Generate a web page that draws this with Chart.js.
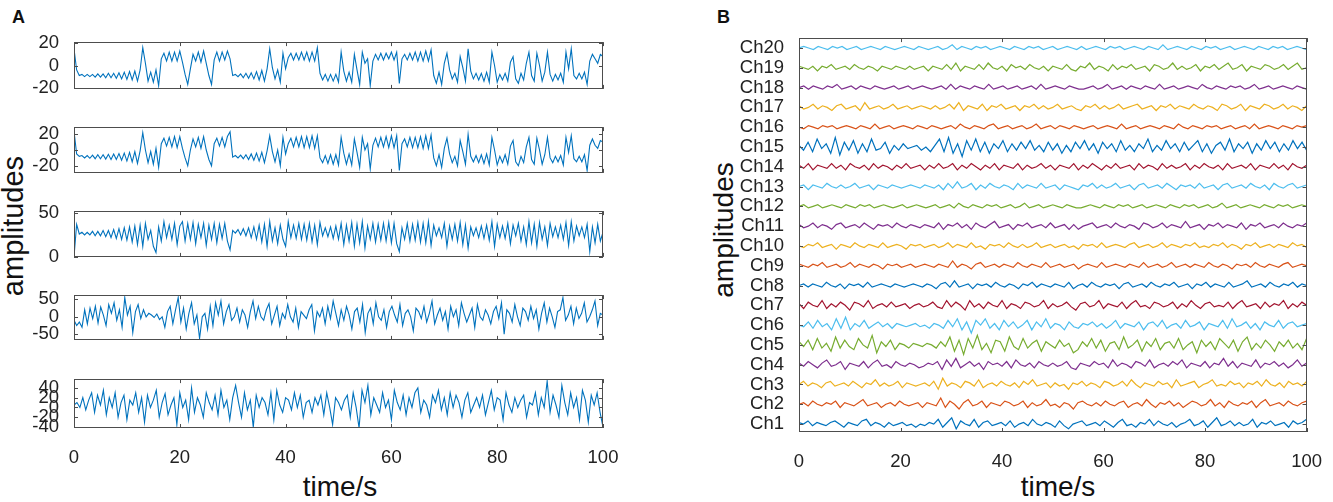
<!DOCTYPE html>
<html>
<head>
<meta charset="utf-8">
<title>amplitudes</title>
<script src="https://cdn.jsdelivr.net/npm/chart.js@4.4.1/dist/chart.umd.min.js"></script>
<style>
  body { margin: 0; background: #fff; }
  #fig { position: relative; width: 1333px; height: 502px; overflow: hidden; font-family: "Liberation Sans", Arial, sans-serif; color: #111; }
  #fig canvas { position: absolute; }
  .txt { position: absolute; white-space: nowrap; line-height: 1; }
  .panel { font-weight: bold; font-size: 18px; }
  .xlab { font-size: 28px; transform: translateX(-50%); }
  .ylab { transform: translate(-50%, -50%) rotate(-90deg); }
</style>
</head>
<body>
<div id="fig">
  <div class="txt panel" style="left:12px; top:8px">A</div>
  <div class="txt panel" style="left:717px; top:8px">B</div>
  <div class="txt ylab" style="left:13px; top:226px; font-size:29px">amplitudes</div>
  <div class="txt ylab" style="left:724px; top:230px; font-size:28px">amplitudes</div>
  <div class="txt xlab" style="left:340px; top:473px">time/s</div>
  <div class="txt xlab" style="left:1058px; top:473px">time/s</div>
  <canvas id="a1"></canvas>
  <canvas id="a2"></canvas>
  <canvas id="a3"></canvas>
  <canvas id="a4"></canvas>
  <canvas id="a5"></canvas>
  <canvas id="b"></canvas>
</div>
<script>
// ---- panel A : five signals, 0..100 s ----
const sigA1 = [15,-4,-9,
  -8,-10,-8,-10,-8,-10.5,-7.5,-10.5,-7.5,-11,-7,-11,-7,-11.5,-6.5,-12,-6,-12.5,-5.5,-13,-5,-14,-4,
  16,2,-14,-6,-15,-4,-18,6, 11,4,12,4,12,4,13,3, -8,-17,-3,10,4,12,3,13,2, -9,-17,5,12,4,12,5,13,6,
  -9,-8,-10,-7.5,-11,-7,-11.5,-6.5,-12,-5.5,-13,-4.5,-14,-3, 15,-2,-12,-4,-15,11,-3,7,
  11,5,11,5,12,5,12,4,12,4, 16,-7,-13,-8,-14,-8,-14,-8,-15,
  12,-5,-14,-6,-15,10,-4,-17,12,2,6,-18,4, 10,5,11,5,11,6,12,5,12, -16,6,
  10,5,11,5,12,4,12,4,13,4,14, -9,-16,-6,-17,2,11,-4,-12,-7,-15,8,-2,-14,15,-5,
  -12,-7,-13,-7,-14,-6,-15, 12,0,-15,-8,-13,-7,-14,3,8,-12,-16,-7,-13,2,12,-9,-14,11,0,-14,-6,12,-8,
  -14,-8,-13,-7,-15, 12,-3,15,-9,-12,-7,-12,-6,-17,4,10,6,2,10,8];

const sigA2 = [24,-5,-8,
  -7,-10,-7,-10.5,-6.5,-11,-6,-11,-6,-11.5,-5.5,-12,-5,-12,-4.5,-13,-4,-14,-3,-15,-2,-17,-1,
  22,0,-16,-2,-18,2,-22,8, 15,5,16,4,17,3,17,2, -10,-20,0,14,4,16,2,17,0, -12,-20,8,15,5,16,4,17,23,
  -9,-7,-10,-6.5,-11,-6,-12,-5,-13,-4,-14,-3,-16,-1, 18,-2,-15,0,-20,16,-5,8,
  15,4,16,4,17,3,17,3,18,2, 18,-10,-16,-7,-17,-6,-18,-6,-19,
  16,-4,-18,-5,-19,14,-3,-22,16,0,8,-24,6, 15,4,16,4,17,3,18,3,18, -26,8,
  14,4,16,3,16,3,17,2,18,2,19, -10,-20,-6,-22,2,15,-5,-16,-8,-20,12,-2,-18,20,-8,
  -15,-7,-16,-6,-17,-5,-19, 16,0,-19,-8,-16,-6,-18,5,12,-15,-20,-8,-16,4,16,-12,-18,15,0,-18,-6,16,-10,
  -16,-8,-15,-7,-19, 16,-3,18,-11,-15,-8,-15,-6,-26,6,14,6,2,12,10];

const sigA3 = [0,37,26,28,25,28,25,29,24,29, 24,30,23,30,22,31,21,32,20,33,
  19,34,17,35,14,36,12,38,20,30, 12,5,34,18,40,22,36,20,38,14,
  35,40,18,38,20,39,15,37,22,38, 13,36,20,38,16,37,21,38,18,8,
  30,27,31,25,32,24,33,22,34,20, 36,17,37,12,40,18,33,15,36,20,
  12,40,22,36,21,38,20,37,19,38, 17,36,14,39,24,33,23,34,21,35,
  20,38,14,36,18,39,12,37,16,40, 10,35,20,38,17,37,19,38,18,39,
  16,38,15,6,33,20,38,18,37,19, 39,17,38,16,40,13,36,24,33,22,
  38,12,35,20,37,18,39,14,36,10, 34,24,33,22,35,21,36,19,40,12,
  37,22,35,21,38,15,36,24,38,18, 34,14,40,16,37,12,39,20,34,13,
  38,23,34,22,36,20,39,13,40,18, 35,24,34,22,37,6,34,16,37,18,28];

const sigA4 = [-10,-25,-15,-30,20,-20,25,-5,30,-18,28,5,-25,35,10,40,-10,20,-30,55,5,30,-45,15,35,
  -5,20,0,10,5,-2,8,-8,0,-30,15,30,-20,20,55,-15,25,-35,10,40,-20,5,-62,0,10,-35,30,-25,40,5,
  45,-20,15,35,-10,0,25,-15,20,5,-30,15,45,-5,30,0,-10,20,38,-20,5,30,-25,10,-5,35,0,-15,25,-30,
  15,5,-5,20,35,-40,15,0,25,-20,30,-5,45,10,-25,20,-10,30,5,-35,15,25,-15,35,-45,10,25,-20,40,0,
  -10,20,-30,15,30,5,-15,35,-25,10,20,0,-40,25,15,-5,30,-15,10,45,-20,5,25,-10,15,-35,30,0,20,-25,
  40,10,-15,5,25,-30,35,0,-10,20,5,-20,15,30,-5,40,-50,20,10,-15,35,0,-25,25,15,-10,30,-5,20,-35,
  10,40,-15,25,0,-30,15,20,55,-10,5,30,-20,25,-5,10,40,-15,0,20,45,-25,10,5];

const sigA5 = [5,10,0,20,-5,15,30,-10,25,5,35,-15,20,0,30,-20,10,25,-25,15,5,30,-10,20,-30,25,0,15,
  35,-20,10,28,-15,5,20,-35,30,0,15,-25,40,-10,20,5,-20,30,10,-5,25,-15,35,0,15,-25,20,45,10,-20,
  30,-5,15,-40,25,0,20,10,-15,30,-25,35,5,-10,20,15,-5,30,0,25,-20,10,15,-10,20,5,25,-15,30,0,-35,
  20,10,-5,15,25,-20,30,0,-42,35,10,45,-15,20,5,-10,30,0,15,-25,35,10,-5,25,-15,20,0,30,40,-10,15,
  5,-20,25,10,35,-5,20,-15,30,0,25,10,-20,15,30,-10,5,20,0,25,-15,10,35,-5,20,15,-25,30,5,-10,20,0,
  15,25,-20,10,5,30,-15,20,0,54,-10,25,5,-20,45,10,-15,30,0,20,-25,35,15,-30,25,5,30,-10,-40];

// ---- panel B : 20 channels ----
const chNames = ['Ch1','Ch2','Ch3','Ch4','Ch5','Ch6','Ch7','Ch8','Ch9','Ch10',
  'Ch11','Ch12','Ch13','Ch14','Ch15','Ch16','Ch17','Ch18','Ch19','Ch20'];

const ch1 = [1,0,2,-1,1,0,-1,1,2,0,-2,1,0,-1,2,3,-1,1,0,-2,1,-1,0,1,-1,0,-2,0,-1,1,0,3,-2,1,4,-3,2,0,-1,3,-2,1,2,-1,0,1,-1,2,-2,0,1,-1,3,0,-1,1,0,-2,2,-1,-3,0,1,2,-1,0,1,-1,2,0,-2,1,3,-1,0,-2,1,0,3,-1,2,0,-1,1,-2,0,1,3,-1,0,2,-2,1,4,-1,0,2,-1,1,-1,0,3,-2,1,0,2,-1,0,1,-2,2,0,1,3];
const ch2 = [0,1,-1,2,0,-1,1,0,2,-2,1,0,-1,1,3,-1,0,1,-2,0,1,-1,2,0,-1,0,1,-2,1,0,-1,4,-2,2,0,-3,1,3,-1,0,2,-2,1,0,-1,2,1,-1,0,2,-2,1,-1,0,3,-1,0,-2,1,0,-3,1,2,0,-1,1,-1,2,0,-1,1,2,-2,0,1,-1,3,0,-2,1,0,2,-1,1,-2,0,2,1,-1,0,3,-1,1,-2,2,0,-1,1,0,2,-2,1,3,-1,0,1,-1,2,0,-1,1,2];
const ch3 = [0,2,-1,1,0,-2,1,2,-1,0,1,-1,2,0,-2,1,0,3,-1,1,-1,0,2,-2,1,0,-1,0,1,-1,2,-3,4,-1,1,0,-2,2,1,-1,3,-2,0,1,-1,2,0,-1,1,-2,2,0,3,-1,0,1,-2,1,-1,0,-3,1,0,2,-1,1,0,-2,2,1,-1,0,2,-1,3,0,-2,1,0,-1,2,0,1,-2,3,-1,0,1,2,-2,0,1,3,-1,0,-1,2,0,1,-2,1,0,2,-1,3,0,-1,1,-2,2,0,1,-1,2];
const ch4 = [1,-1,2,0,-2,1,3,-1,0,2,-3,1,0,-1,2,-2,1,3,-1,0,-2,2,0,-1,1,0,-2,-1,1,0,2,-3,3,-1,4,-2,0,2,-1,1,-3,2,0,1,-1,2,-2,3,0,-1,1,-2,2,0,-1,1,-1,0,2,-2,-3,1,0,-1,2,0,1,-2,3,-1,1,0,-2,2,1,-1,3,-2,0,1,-1,2,0,3,-2,1,0,-1,2,-2,1,0,4,-1,2,-2,1,0,-1,3,-2,1,0,2,-1,1,-2,0,3,-1,1];
const ch5 = [2,-1,3,-3,4,-2,1,-4,5,-2,3,-1,-3,4,0,-2,6,-5,2,-1,3,-3,1,0,-2,1,0,-1,1,0,-2,2,-1,5,-4,3,-6,4,-2,6,-3,1,-5,3,2,-4,5,-1,-3,4,-2,1,3,-4,2,0,-2,3,-1,1,-5,-3,2,-1,4,-2,3,-4,1,2,-3,5,-2,0,3,-4,2,-1,4,-3,1,2,-2,4,-3,0,2,-5,3,-1,2,-3,4,1,-2,3,-4,2,5,-3,1,-2,3,0,-4,2,-1,3,-2,1,-3,4];
const ch6 = [0,-1,2,-2,3,-1,1,-3,4,-2,5,-3,1,-1,3,-2,0,2,-1,1,-2,1,0,-1,0,1,-1,0,-2,1,0,-2,3,-1,4,-3,2,-5,3,0,4,-2,1,-3,3,-1,2,-2,0,3,-3,2,-1,4,-2,1,0,-3,2,-1,-2,1,0,2,-1,1,-2,0,3,-2,1,0,-1,2,-3,1,2,-1,3,-2,0,1,-2,3,-1,0,2,-3,1,0,-1,3,-2,4,-1,0,2,-2,1,-3,2,0,-1,3,-2,1,2,-1,0,1];
const ch7 = [1,-2,2,0,-1,3,-2,1,-1,2,0,-3,2,1,-1,3,-2,0,1,-1,2,-1,0,1,-2,0,1,-1,0,2,-1,-2,3,-1,2,0,-3,3,-1,1,-2,2,0,-1,3,-2,1,0,-2,2,1,-1,0,3,-2,1,-1,0,2,-1,-3,1,2,-1,0,3,-2,1,0,-1,2,-2,1,3,-1,0,-2,2,1,-1,0,2,-2,1,-1,3,0,-2,1,2,-1,0,-1,2,-2,1,3,-1,0,1,-2,2,-1,1,0,3,-2,1,-1,2,0];
const ch8 = [0,1,-1,1,0,-1,2,0,-1,1,-2,1,0,1,-1,2,-1,0,1,0,-1,1,0,-1,0,1,0,-1,1,0,-2,1,2,-1,3,-1,0,1,-2,1,0,1,-1,2,0,-1,1,0,-2,1,0,2,-1,1,0,-1,1,0,-1,2,-2,0,1,-1,2,0,-1,1,0,1,-2,1,2,-1,0,1,-1,2,0,-1,1,0,2,-1,0,1,-2,1,0,2,-1,1,0,-1,2,-1,0,1,3,-1,0,1,-1,2,0,-1,1,0,2,-1,1,0];
const ch9 = [1,0,-1,1,0,2,-1,0,1,-1,0,2,-1,1,0,-1,1,0,-2,1,0,1,-1,0,1,-1,0,1,0,-1,1,0,-1,3,-1,1,0,-2,1,2,-1,0,1,-1,1,0,-1,2,0,-1,1,0,-1,2,-1,0,1,-1,0,1,-2,0,1,0,-1,2,-1,0,1,0,-1,1,0,-1,2,-1,0,1,-1,0,2,-1,0,1,-1,1,0,-1,2,0,-1,1,0,-2,1,0,1,-1,2,0,-1,1,0,-1,1,2,-1,0,1,0];
const ch10 = [0,-1,1,0,2,-1,0,1,-2,1,0,-1,2,0,-1,1,0,-1,2,-1,0,1,0,-2,1,0,1,-1,0,1,-1,0,2,-1,1,0,-1,2,-1,0,-2,1,0,1,-1,2,0,-1,1,-1,0,2,-1,0,1,-1,0,1,-1,0,-2,1,0,1,-1,2,-1,0,1,0,-1,1,2,-1,0,1,-1,0,2,-1,1,0,-1,1,0,2,-1,0,-1,1,0,2,-1,1,0,-2,1,0,2,-1,0,1,-1,1,0,-1,2,0,1,-1];
const ch11 = [1,-1,0,2,-1,1,0,-2,1,2,-1,0,1,-1,2,0,-2,1,0,1,-1,2,0,-1,1,0,-1,1,0,-1,2,-2,1,0,2,-1,1,-2,2,0,-1,1,3,-1,0,1,-2,1,0,2,-1,0,1,-1,2,-1,0,1,-2,1,-2,0,1,2,-1,0,1,-1,2,0,-1,1,0,-2,2,1,-1,0,2,-1,1,0,-1,3,-1,0,1,-2,1,0,2,-1,1,0,-1,2,-2,1,0,2,-1,0,1,-1,2,0,-1,1,0,2];
const ch12 = [0,1,-1,0,1,-1,0,1,0,-1,1,0,-1,1,0,1,-1,0,1,0,-1,0,1,-1,0,1,0,-1,0,1,-1,0,1,-1,2,0,-1,1,0,-1,1,0,1,-1,0,1,-1,0,2,-1,0,1,-1,0,1,0,-1,1,0,-1,-1,0,1,0,-1,1,0,-1,1,0,1,-1,0,1,-1,0,1,0,-1,1,0,-1,1,0,1,-1,0,1,-1,0,2,-1,0,1,-1,0,1,0,-1,1,0,-1,1,0,1,-1,0,1,0];
const ch13 = [0,1,-2,1,0,-1,2,0,-1,1,-1,0,2,-1,0,1,-2,1,0,-1,1,0,-1,0,1,0,-1,1,0,-1,1,-2,2,-1,3,-1,0,2,-2,1,-1,2,0,-1,1,0,-2,2,-1,1,0,-1,2,-1,0,1,-2,1,0,-1,-2,1,0,2,-1,1,-1,0,2,-1,0,1,-2,1,2,-1,0,1,-1,2,0,-2,1,0,1,-1,2,-1,0,1,-2,1,2,-1,0,1,-1,2,0,-1,1,-2,2,0,-1,1,2,-1,0,1];
const ch14 = [1,-1,2,-2,1,0,-1,2,-1,1,-2,2,0,-1,1,-2,2,-1,1,0,-2,1,-1,2,-1,0,1,-2,1,-1,2,-1,0,2,-2,1,-1,2,0,-2,1,-1,2,-2,1,0,-1,2,-2,1,-1,0,2,-1,1,-2,1,0,-1,2,-2,1,-1,2,0,-2,1,-1,2,-1,0,1,-2,2,-1,1,0,-2,2,-1,1,-1,0,2,-2,1,-1,2,0,-1,1,-2,2,-1,0,1,-1,2,-2,1,0,-1,2,-1,1,-2,2,0,-1,1];
const ch15 = [1,-2,3,-3,5,-1,2,-4,6,-5,3,-2,4,-4,2,-3,5,-2,-1,3,-4,1,-2,2,-1,0,1,-2,0,-3,1,5,-3,6,-4,2,-6,4,-2,5,-3,3,-4,2,-1,4,-3,2,-2,3,-1,4,-2,1,-3,3,-2,2,-4,1,-3,3,-1,4,-2,2,-4,3,-1,2,-3,4,-2,1,-3,2,-1,5,-3,1,-2,4,-1,2,-3,3,-2,1,4,-3,2,-4,1,3,-2,5,-3,2,-1,3,-4,2,-2,4,-1,3,-3,2,-2,4,-1,3,-2];
const ch16 = [0,-1,1,0,-1,1,0,1,-1,0,1,0,-1,1,0,-1,2,-1,0,1,-1,0,1,0,-1,1,0,-1,1,0,-1,0,1,-1,2,0,-1,1,0,-1,1,2,-1,0,1,-1,0,1,-1,0,2,-1,0,1,-1,1,0,-1,1,0,-1,0,1,-1,0,1,0,-1,2,-1,0,1,-1,0,1,0,-1,1,0,-1,2,0,-1,1,0,-1,1,0,1,-1,0,1,-1,0,1,-1,2,-1,0,1,0,-1,1,0,-1,1,0,1];
const ch17 = [1,-1,0,2,-1,1,0,-2,1,2,-1,0,1,-2,3,-1,0,1,-1,0,2,-1,0,1,-1,0,1,0,-1,1,-1,0,2,-1,3,-2,1,0,-1,2,-2,1,0,2,-1,0,1,-2,1,0,2,-1,1,-1,0,2,-1,0,1,-1,-2,1,0,2,-1,1,-1,0,2,-1,0,1,2,-1,0,1,-2,1,0,2,-1,1,0,-1,2,0,-1,1,0,-2,2,1,-1,0,2,-2,1,0,-1,2,1,-1,0,2,-1,1,0,-2,1];
const ch18 = [0,1,-1,1,0,-1,1,0,2,-1,0,1,-1,1,0,-1,1,0,-1,0,1,-1,0,1,-1,0,1,0,-1,0,1,-1,2,-1,1,0,-1,1,0,-1,2,-1,0,1,-1,0,1,-1,0,1,-1,2,-1,0,1,0,-1,1,0,-1,-1,0,1,-1,0,2,-1,0,1,-1,1,0,-1,1,0,-1,2,-1,0,1,-1,0,1,0,-1,2,0,-1,1,0,-1,1,0,1,-1,0,2,-1,0,1,-1,0,1,0,-1,1,0,-1];
const ch19 = [1,0,-1,1,-2,1,0,2,-1,0,1,-1,2,0,-1,1,0,-2,1,0,-1,1,0,-1,1,-1,0,1,-2,1,0,-1,2,-1,3,-2,1,0,-1,2,-1,3,0,-1,1,-2,2,0,1,-1,2,0,-1,1,-2,1,0,-1,2,-1,-2,1,0,3,-1,1,0,-2,2,-1,1,0,2,-1,0,1,-2,2,1,-1,0,3,-1,1,-1,0,2,-2,1,0,2,-1,1,3,-1,0,2,-2,1,0,-1,2,1,-1,0,2,-1,1,3,-1,0];
const ch20 = [0,1,0,-1,1,0,-1,1,0,1,-1,0,1,-1,0,1,0,-1,1,0,-1,0,1,0,-1,1,0,-1,0,1,-1,0,2,-1,1,0,-1,1,0,1,-1,0,1,0,-1,1,0,-1,1,0,1,-1,0,1,-1,0,1,0,-1,1,-1,0,1,0,-1,1,0,1,-1,0,1,0,-1,1,0,-1,2,-1,0,1,0,-1,1,0,-1,1,0,1,-1,0,1,-1,0,1,0,-1,1,0,-1,1,0,1,-1,0,1,0,-1];

const channels = [ch1,ch2,ch3,ch4,ch5,ch6,ch7,ch8,ch9,ch10,ch11,ch12,ch13,ch14,ch15,ch16,ch17,ch18,ch19,ch20];
const xTicks = [0, 20, 40, 60, 80, 100];

// ---- drawing ----
const FONT = '"Liberation Sans", Arial, sans-serif';
const BLUE = '#0072BD';
const lineColors = ['#0072BD', '#D95319', '#EDB120', '#7E2F8E', '#77AC30', '#4DBEEE', '#A2142F'];
const TICK_FONT = { family: FONT, size: 18.5 };
const CH_GAIN = 0.08; // channel trace height relative to spacing

function toPoints(vals, offset, gain) {
  return vals.map((v, i) => ({ x: i * 100 / (vals.length - 1), y: offset + v * gain }));
}

// matlab style box with inward ticks
const boxPlugin = {
  id: 'box',
  afterDatasetsDraw(chart) {
    const { ctx, chartArea: a, scales } = chart;
    const L = 4;
    ctx.save();
    ctx.strokeStyle = '#4d4d4d';
    ctx.lineWidth = 1;
    ctx.strokeRect(Math.round(a.left) + 0.5, Math.round(a.top) + 0.5, Math.round(a.width) - 1, Math.round(a.height) - 1);
    ctx.beginPath();
    scales.x.ticks.forEach(t => {
      const px = Math.round(scales.x.getPixelForValue(t.value)) + 0.5;
      ctx.moveTo(px, a.top); ctx.lineTo(px, a.top + L);
      ctx.moveTo(px, a.bottom); ctx.lineTo(px, a.bottom - L);
    });
    scales.y.ticks.forEach(t => {
      const py = Math.round(scales.y.getPixelForValue(t.value)) + 0.5;
      ctx.moveTo(a.left, py); ctx.lineTo(a.left + L, py);
      ctx.moveTo(a.right, py); ctx.lineTo(a.right - L, py);
    });
    ctx.stroke();
    ctx.restore();
  }
};

function makeChart(cfg) {
  const c = document.getElementById(cfg.id);
  c.width = cfg.w; c.height = cfg.h;
  c.style.left = cfg.x + 'px'; c.style.top = cfg.y + 'px';
  return new Chart(c, {
    type: 'line',
    data: { datasets: cfg.datasets },
    options: {
      responsive: false,
      animation: false,
      events: [],
      layout: { padding: { left: 0, top: cfg.padTop, right: cfg.padRight, bottom: 0 } },
      plugins: { legend: { display: false }, tooltip: { enabled: false } },
      elements: { point: { radius: 0 }, line: { tension: 0 } },
      scales: {
        x: {
          type: 'linear', min: 0, max: 100,
          afterBuildTicks: s => { s.ticks = xTicks.map(v => ({ value: v })); },
          afterFit: s => { s.height = cfg.xH; },
          grid: { display: false }, border: { display: false },
          ticks: { display: cfg.xLabels, autoSkip: false, padding: 11, color: '#222', font: TICK_FONT, maxRotation: 0 }
        },
        y: {
          type: 'linear', min: cfg.min, max: cfg.max,
          afterBuildTicks: s => { s.ticks = cfg.yTicks.map(v => ({ value: v })); },
          afterFit: s => { s.width = cfg.yW; },
          grid: { display: false }, border: { display: false },
          ticks: { autoSkip: false, padding: cfg.yPad, color: '#222', font: TICK_FONT, callback: cfg.yLabel || (v => String(v)) }
        }
      }
    },
    plugins: [boxPlugin]
  });
}

// panel A subplots
const subA = [
  { id: 'a1', vals: sigA1, top: 39, bottom: 92, min: -21, max: 21, yTicks: [-20, 0, 20] },
  { id: 'a2', vals: sigA2, top: 124, bottom: 176, min: -29, max: 29, yTicks: [-20, 0, 20] },
  { id: 'a3', vals: sigA3, top: 208, bottom: 260, min: 0, max: 52, yTicks: [0, 50] },
  { id: 'a4', vals: sigA4, top: 292, bottom: 343, min: -66, max: 62, yTicks: [-50, 0, 50] },
  { id: 'a5', vals: sigA5, top: 376, bottom: 428, min: -42, max: 58, yTicks: [-40, -20, 0, 20, 40] }
];
const A_LEFT = 74, A_RIGHT = 603, A_W = 640;

subA.forEach((p, k) => {
  const last = k === subA.length - 1;
  const y0 = p.top - 15;
  const h = last ? 502 - y0 : (p.bottom - p.top) + 30;
  makeChart({
    id: p.id, x: 0, y: y0, w: A_W, h: h,
    padTop: 15, padRight: A_W - A_RIGHT, yW: A_LEFT, xH: h - 15 - (p.bottom - p.top),
    xLabels: last, min: p.min, max: p.max, yTicks: p.yTicks, yPad: 7,
    datasets: [{ data: toPoints(p.vals, 0, 1), borderColor: BLUE, borderWidth: 1.1 }]
  });
});

// panel B
const B = { x: 700, y: 20, w: 633, h: 482, left: 799, right: 1313, top: 36, bottom: 432 };
makeChart({
  id: 'b', x: B.x, y: B.y, w: B.w, h: B.h,
  padTop: B.top - B.y, padRight: B.x + B.w - B.right, yW: B.left - B.x,
  xH: B.y + B.h - B.bottom, xLabels: true,
  min: 0.6, max: 20.5, yTicks: chNames.map((n, i) => i + 1), yPad: 7,
  yLabel: v => chNames[v - 1],
  datasets: channels.map((vals, i) => ({
    data: toPoints(vals, i + 1, CH_GAIN),
    borderColor: lineColors[i % lineColors.length],
    borderWidth: 1.2
  }))
});
</script>
</body>
</html>
